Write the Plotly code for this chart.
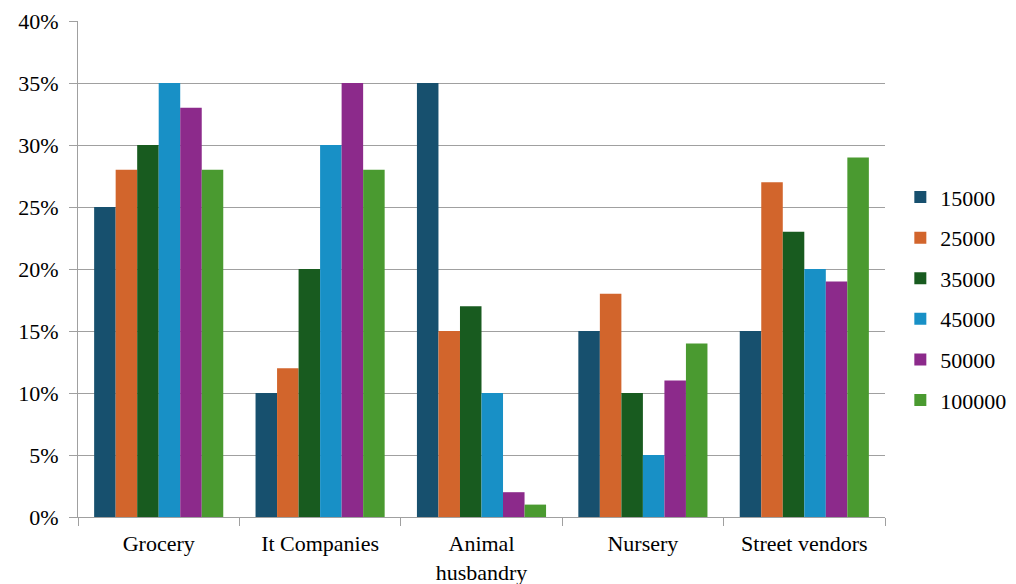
import plotly.graph_objects as go

categories = ["Grocery", "It Companies", "Animal<br>husbandry", "Nursery", "Street vendors"]
series_names = ["15000", "25000", "35000", "45000", "50000", "100000"]
v15000 = [0.25, 0.10, 0.35, 0.15, 0.15]
v25000 = [0.28, 0.12, 0.15, 0.18, 0.27]
v35000 = [0.30, 0.20, 0.17, 0.10, 0.23]
v45000 = [0.35, 0.30, 0.10, 0.05, 0.20]
v50000 = [0.33, 0.35, 0.02, 0.11, 0.19]
v100000 = [0.28, 0.28, 0.01, 0.14, 0.29]
series_values = [v15000, v25000, v35000, v45000, v50000, v100000]
colors = ["#17506E", "#D2652C", "#185B1F", "#1890C6", "#8C2A8B", "#4A9A30"]
y_ticks = [0, 0.05, 0.10, 0.15, 0.20, 0.25, 0.30, 0.35, 0.40]
y_labels = ["0%", "5%", "10%", "15%", "20%", "25%", "30%", "35%", "40%"]

font_family = "Liberation Serif"

fig = go.Figure()
for name, vals, col in zip(series_names, series_values, colors):
    fig.add_trace(go.Bar(
        x=categories, y=vals, name=name, marker_color=col,
        marker_line_width=0, legendgroup=name,
    ))

fig.update_layout(
    width=1016, height=584,
    margin=dict(l=78, r=131, t=21, b=67, autoexpand=False),
    paper_bgcolor="white", plot_bgcolor="white",
    barmode="group", bargap=0.2, bargroupgap=0,
    font=dict(family=font_family, size=22, color="#000000"),
    legend=dict(
        x=1.019, y=0.44, xanchor="left", yanchor="middle",
        font=dict(family=font_family, size=22, color="#000000"),
        tracegroupgap=9, itemwidth=30,
        bgcolor="rgba(0,0,0,0)",
    ),
    showlegend=True,
)
fig.update_xaxes(
    showline=True, linecolor="#A0A0A0", linewidth=1,
    ticks="outside", tickson="boundaries", ticklen=8, tickcolor="#A0A0A0",
    showgrid=False, tickfont=dict(family=font_family, size=22),
    ticklabelstandoff=7,
)
fig.update_yaxes(
    range=[0, 0.4], tickvals=y_ticks, ticktext=y_labels,
    showline=True, linecolor="#A0A0A0", linewidth=1,
    ticks="outside", ticklen=8, tickcolor="#A0A0A0",
    showgrid=True, gridcolor="#A0A0A0", gridwidth=1,
    zeroline=False, tickfont=dict(family=font_family, size=22),
    ticklabelstandoff=6,
)

fig.write_html("out.html")
